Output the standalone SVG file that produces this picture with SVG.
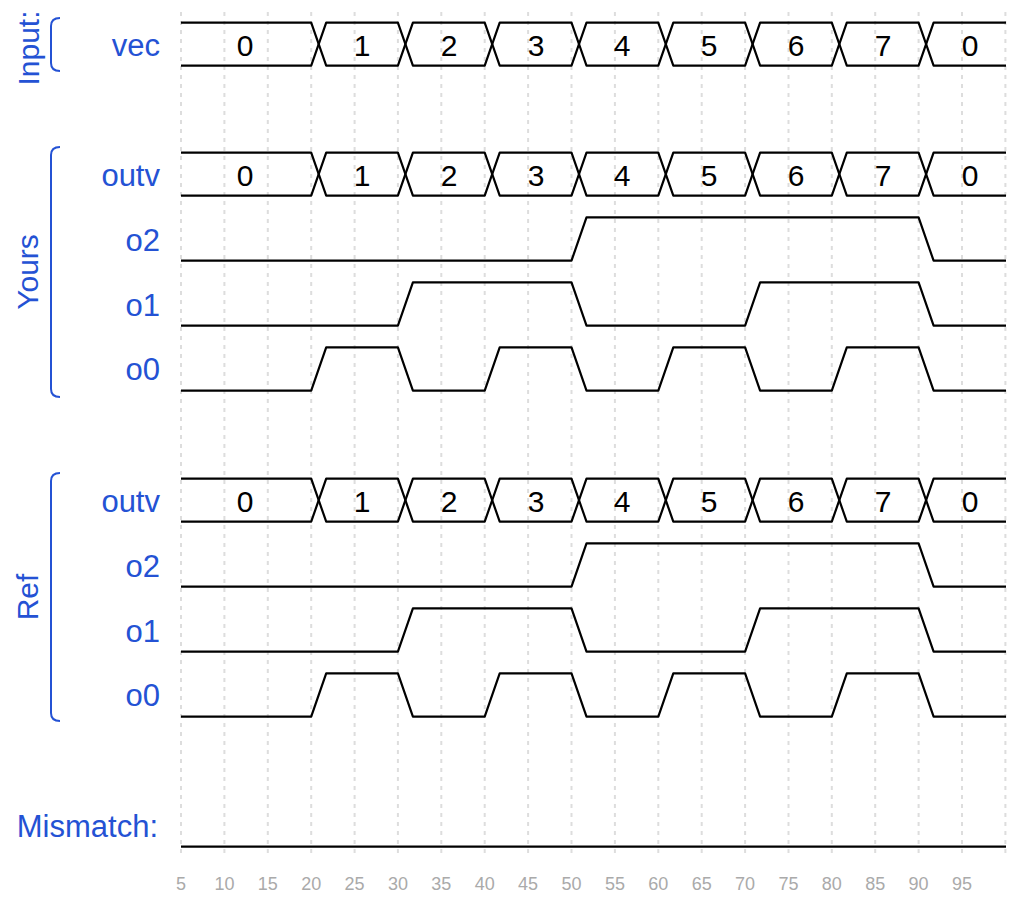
<svg xmlns="http://www.w3.org/2000/svg" width="1024" height="900" viewBox="0 0 1024 900">
<style>
.bg{fill:#ffffff}
.grid line{stroke:#dddddd;stroke-width:2;stroke-dasharray:4 5}
.tick{font-family:"Liberation Sans",Arial,sans-serif;font-size:18px;fill:#aaaaaa;text-anchor:middle}
.wave{fill:none;stroke:#000000;stroke-width:2.2;stroke-linejoin:round}
.val{font-family:"Liberation Sans",Arial,sans-serif;font-size:30px;fill:#000000;text-anchor:middle}
.name{font-family:"Liberation Sans",Arial,sans-serif;font-size:31px;fill:#2452d4;text-anchor:end}
.grp{font-family:"Liberation Sans",Arial,sans-serif;font-size:30px;fill:#2452d4;text-anchor:middle}
.brk{fill:none;stroke:#2452d4;stroke-width:2}
</style>
<defs>
<g id="busShape">
<path class="wave" d="M181,0 H311.2 L326.2,43 H397.9 L412.9,0 H484.7 L499.7,43 H571.5 L586.5,0 H658.3 L673.3,43 H745.1 L760.1,0 H831.8 L846.8,43 H918.6 L933.6,0 H1006"/>
<path class="wave" d="M181,43 H311.2 L326.2,0 H397.9 L412.9,43 H484.7 L499.7,0 H571.5 L586.5,43 H658.3 L673.3,0 H745.1 L760.1,43 H831.8 L846.8,0 H918.6 L933.6,43 H1006"/>
<text class="val" x="245" y="33">0</text>
<text class="val" x="362" y="33">1</text>
<text class="val" x="449" y="33">2</text>
<text class="val" x="536" y="33">3</text>
<text class="val" x="622" y="33">4</text>
<text class="val" x="709" y="33">5</text>
<text class="val" x="796" y="33">6</text>
<text class="val" x="883" y="33">7</text>
<text class="val" x="970" y="33">0</text>
</g>
<path id="o2Shape" class="wave" d="M181,43.4 H571.5 L586.5,0 H918.6 L933.6,43.4 H1006"/>
<path id="o1Shape" class="wave" d="M181,43.4 H397.9 L412.9,0 H571.5 L586.5,43.4 H745.1 L760.1,0 H918.6 L933.6,43.4 H1006"/>
<path id="o0Shape" class="wave" d="M181,43.4 H311.2 L326.2,0 H397.9 L412.9,43.4 H484.7 L499.7,0 H571.5 L586.5,43.4 H658.3 L673.3,0 H745.1 L760.1,43.4 H831.8 L846.8,0 H918.6 L933.6,43.4 H1006"/>
</defs>
<rect class="bg" x="0" y="0" width="1024" height="900"/>
<g id="grid" class="grid">
<line x1="181" y1="12" x2="181" y2="858"/>
<line x1="224.4" y1="12" x2="224.4" y2="858"/>
<line x1="267.8" y1="12" x2="267.8" y2="858"/>
<line x1="311.2" y1="12" x2="311.2" y2="858"/>
<line x1="354.6" y1="12" x2="354.6" y2="858"/>
<line x1="397.9" y1="12" x2="397.9" y2="858"/>
<line x1="441.3" y1="12" x2="441.3" y2="858"/>
<line x1="484.7" y1="12" x2="484.7" y2="858"/>
<line x1="528.1" y1="12" x2="528.1" y2="858"/>
<line x1="571.5" y1="12" x2="571.5" y2="858"/>
<line x1="614.9" y1="12" x2="614.9" y2="858"/>
<line x1="658.3" y1="12" x2="658.3" y2="858"/>
<line x1="701.7" y1="12" x2="701.7" y2="858"/>
<line x1="745.1" y1="12" x2="745.1" y2="858"/>
<line x1="788.5" y1="12" x2="788.5" y2="858"/>
<line x1="831.8" y1="12" x2="831.8" y2="858"/>
<line x1="875.2" y1="12" x2="875.2" y2="858"/>
<line x1="918.6" y1="12" x2="918.6" y2="858"/>
<line x1="962" y1="12" x2="962" y2="858"/>
<line x1="1005.4" y1="12" x2="1005.4" y2="858"/>
</g>
<g id="axis">
<text class="tick" x="181" y="890">5</text>
<text class="tick" x="224.4" y="890">10</text>
<text class="tick" x="267.8" y="890">15</text>
<text class="tick" x="311.2" y="890">20</text>
<text class="tick" x="354.6" y="890">25</text>
<text class="tick" x="397.9" y="890">30</text>
<text class="tick" x="441.3" y="890">35</text>
<text class="tick" x="484.7" y="890">40</text>
<text class="tick" x="528.1" y="890">45</text>
<text class="tick" x="571.5" y="890">50</text>
<text class="tick" x="614.9" y="890">55</text>
<text class="tick" x="658.3" y="890">60</text>
<text class="tick" x="701.7" y="890">65</text>
<text class="tick" x="745.1" y="890">70</text>
<text class="tick" x="788.5" y="890">75</text>
<text class="tick" x="831.8" y="890">80</text>
<text class="tick" x="875.2" y="890">85</text>
<text class="tick" x="918.6" y="890">90</text>
<text class="tick" x="962" y="890">95</text>
</g>
<g id="group-input">
<text class="grp" transform="translate(39,48) rotate(-90)">Input:</text>
<path class="brk" d="M60,18 Q51,18 51,26 V63 Q51,71 60,71"/>
</g>
<g id="group-yours">
<text class="grp" transform="translate(38,272) rotate(-90)">Yours</text>
<path class="brk" d="M60,147 Q51,147 51,155 V389 Q51,397 60,397"/>
</g>
<g id="group-ref">
<text class="grp" transform="translate(38,597) rotate(-90)">Ref</text>
<path class="brk" d="M60,473 Q51,473 51,481 V713 Q51,721 60,721"/>
</g>
<g id="input-vec">
<text class="name" x="160" y="56">vec</text>
<use href="#busShape" transform="translate(0,22.7)"/>
</g>
<g id="yours-outv">
<text class="name" x="160" y="186">outv</text>
<use href="#busShape" transform="translate(0,152.7)"/>
</g>
<g id="yours-o2">
<text class="name" x="160" y="251">o2</text>
<use href="#o2Shape" transform="translate(0,217.3)"/>
</g>
<g id="yours-o1">
<text class="name" x="160" y="316">o1</text>
<use href="#o1Shape" transform="translate(0,282.3)"/>
</g>
<g id="yours-o0">
<text class="name" x="160" y="380">o0</text>
<use href="#o0Shape" transform="translate(0,347.3)"/>
</g>
<g id="ref-outv">
<text class="name" x="160" y="512">outv</text>
<use href="#busShape" transform="translate(0,478.7)"/>
</g>
<g id="ref-o2">
<text class="name" x="160" y="577">o2</text>
<use href="#o2Shape" transform="translate(0,543.3)"/>
</g>
<g id="ref-o1">
<text class="name" x="160" y="642">o1</text>
<use href="#o1Shape" transform="translate(0,608.3)"/>
</g>
<g id="ref-o0">
<text class="name" x="160" y="706">o0</text>
<use href="#o0Shape" transform="translate(0,673.3)"/>
</g>
<g id="mismatch">
<text class="name" x="158" y="837">Mismatch:</text>
<path class="wave" d="M181,846.7 H1006"/>
</g>
<g id="connectors"></g>
</svg>
